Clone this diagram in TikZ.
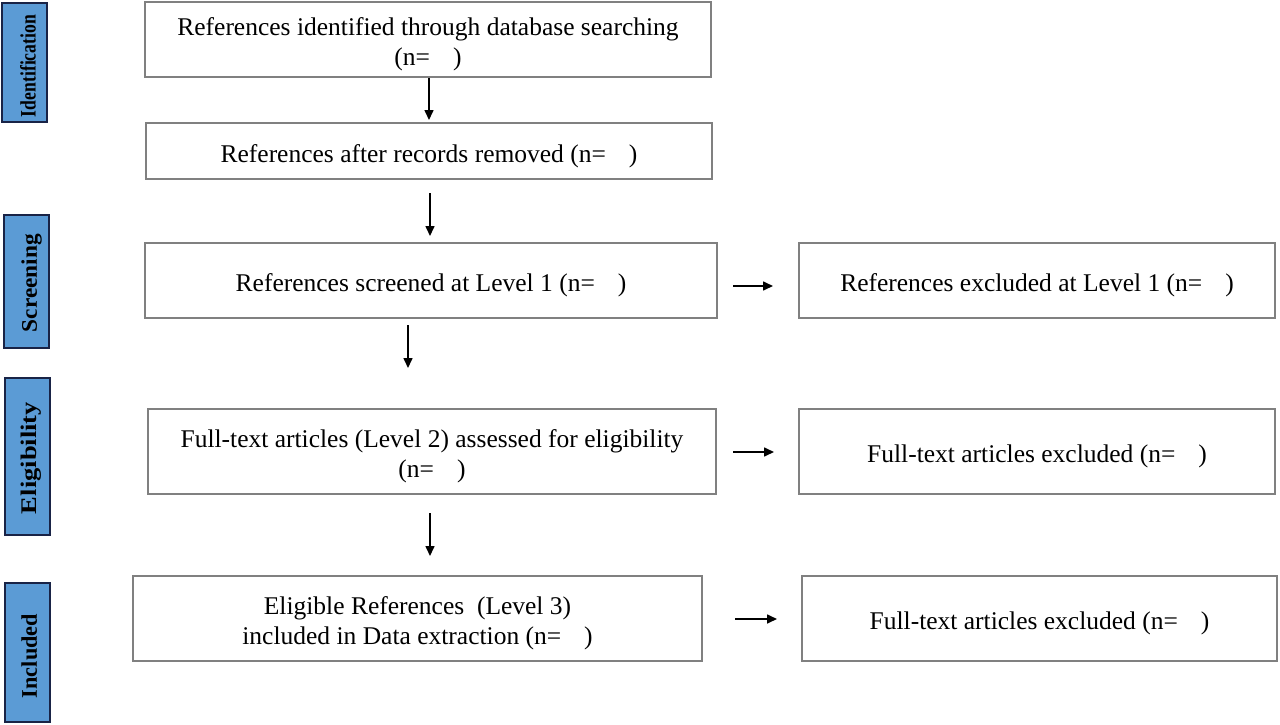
\documentclass[tikz,border=0pt]{standalone}
\usepackage{fontspec}
\setmainfont{Liberation Serif}
\usetikzlibrary{arrows.meta}
\definecolor{labelblue}{RGB}{91,155,213}
\definecolor{labelline}{RGB}{25,35,70}
\definecolor{boxline}{RGB}{128,128,128}
\tikzset{
  mainbox/.style={draw=boxline, line width=1.3pt, inner sep=0pt,
    font=\fontsize{25.5}{30.5}\selectfont, text=black},
  stagebox/.style={draw=labelline, fill=labelblue, line width=1.6pt, inner sep=0pt},
  stagetext/.style={rotate=90, inner sep=0pt, anchor=base, text=black},
  flowarrow/.style={line width=1.6pt, -{Triangle[width=9pt,length=10pt]}}
}
\newcommand{\gapn}{(n=\hspace{0.9em})}
\newcommand{\boxtext}[1]{\raisebox{-5pt}[\height][\depth]{\begin{tabular}{@{}c@{}}#1\end{tabular}}}
\newcommand{\stagelabel}[2]{\resizebox{#1}{15.5pt}{\bfseries #2}}
\begin{document}
\begin{tikzpicture}[x=1pt,y=-1pt]
\useasboundingbox (0,0) rectangle (1280,725);
% stage labels
\node[stagebox, minimum width=45pt, minimum height=119pt] (sid) at (24.5,62.5) {};
\node[stagetext] (sidt) at (35.5,66) {\stagelabel{102pt}{Identification}};
\node[stagebox, minimum width=45pt, minimum height=133pt] (ssc) at (26.5,281.5) {};
\node[stagetext] (ssct) at (37,283) {\stagelabel{98pt}{Screening}};
\node[stagebox, minimum width=45pt, minimum height=157pt] (sel) at (27.5,456.5) {};
\node[stagetext] (selt) at (37,458) {\stagelabel{112pt}{Eligibility}};
\node[stagebox, minimum width=45pt, minimum height=139pt] (sin) at (27.5,652.5) {};
\node[stagetext] (sint) at (37,656) {\stagelabel{84pt}{Included}};
% main boxes
\node[mainbox, minimum width=566pt, minimum height=75pt] (a) at (428,39.5)
  {\boxtext{References identified through database searching\\ \gapn}};
\node[mainbox, minimum width=566pt, minimum height=56pt] (b) at (429,151)
  {\boxtext{References after records removed \gapn}};
\node[mainbox, minimum width=572pt, minimum height=75pt] (c) at (431,280.5)
  {\boxtext{References screened at Level 1 \gapn}};
\node[mainbox, minimum width=476pt, minimum height=75pt] (d) at (1037,280.5)
  {\boxtext{References excluded at Level 1 \gapn}};
\node[mainbox, minimum width=568pt, minimum height=85pt] (e) at (432,451.5)
  {\boxtext{Full-text articles (Level 2) assessed for eligibility\\ \gapn}};
\node[mainbox, minimum width=476pt, minimum height=85pt] (f) at (1037,451.5)
  {\boxtext{Full-text articles excluded \gapn}};
\node[mainbox, minimum width=569pt, minimum height=85pt] (g) at (417.5,618.5)
  {\boxtext{Eligible References\ \ (Level 3)\\ included in Data extraction \gapn}};
\node[mainbox, minimum width=475pt, minimum height=85pt] (h) at (1039.5,618.5)
  {\boxtext{Full-text articles excluded \gapn}};
% arrow end points
\coordinate (ab1) at (429,78);  \coordinate (ab2) at (429,120);
\coordinate (bc1) at (430,193); \coordinate (bc2) at (430,236);
\coordinate (ce1) at (408,325); \coordinate (ce2) at (408,368);
\coordinate (eg1) at (430,513); \coordinate (eg2) at (430,556);
\coordinate (cd1) at (733,286); \coordinate (cd2) at (773,286);
\coordinate (ef1) at (733,452); \coordinate (ef2) at (774,452);
\coordinate (gh1) at (735,619); \coordinate (gh2) at (777,619);
\draw[flowarrow] (ab1) -- (ab2);
\draw[flowarrow] (bc1) -- (bc2);
\draw[flowarrow] (ce1) -- (ce2);
\draw[flowarrow] (eg1) -- (eg2);
\draw[flowarrow] (cd1) -- (cd2);
\draw[flowarrow] (ef1) -- (ef2);
\draw[flowarrow] (gh1) -- (gh2);
\end{tikzpicture}
\end{document}
